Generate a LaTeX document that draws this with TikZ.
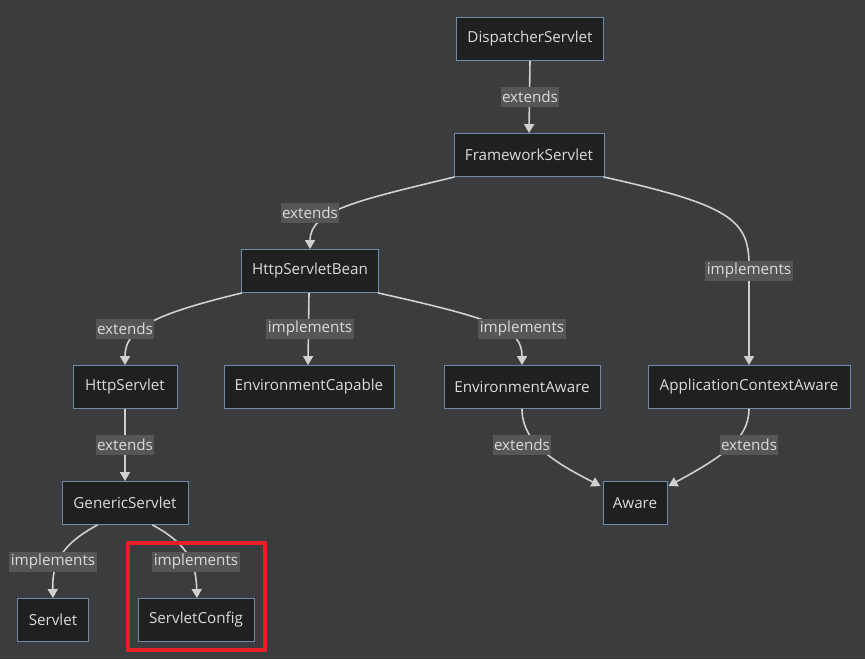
\documentclass[tikz,border=0pt]{standalone}
\usepackage{fontspec}
\setmainfont{Open Sans}
\usetikzlibrary{arrows.meta,calc}
\definecolor{bgc}{RGB}{59,60,62}
\definecolor{nodefill}{RGB}{31,32,32}
\definecolor{nodeline}{RGB}{110,140,170}
\definecolor{txt}{RGB}{218,218,218}
\definecolor{edgec}{RGB}{208,208,208}
\definecolor{lblbg}{RGB}{86,86,86}
\definecolor{hl}{RGB}{232,30,40}
\begin{document}
\begin{tikzpicture}[x=1pt,y=-1pt,
  box/.style={draw=nodeline,fill=nodefill,line width=0.9pt,minimum height=43pt,inner sep=0pt,text=txt,font=\fontsize{15.2}{17}\selectfont},
  lbl/.style={fill=lblbg,text=txt,inner sep=1.5pt,minimum height=20pt,font=\fontsize{15.2}{17}\selectfont},
  edge/.style={draw=edgec,line width=1.6pt,-{Triangle[width=10pt,length=9pt]}}]
\fill[bgc] (0,0) rectangle (865,659);
\useasboundingbox (0,0) rectangle (865,659);
% nodes
\node[box,minimum width=147pt] (ds) at (530,39) {DispatcherServlet};
\node[box,minimum width=150pt] (fs) at (529,155) {FrameworkServlet};
\node[box,minimum width=137pt] (hsb) at (310,271) {HttpServletBean};
\node[box,minimum width=104pt] (hs) at (125,387) {HttpServlet};
\node[box,minimum width=170pt] (ec) at (309,387) {EnvironmentCapable};
\node[box,minimum width=156pt] (ea) at (522,387) {EnvironmentAware};
\node[box,minimum width=202pt] (aca) at (749,387) {ApplicationContextAware};
\node[box,minimum width=126pt] (gs) at (125,503) {GenericServlet};
\node[box,minimum width=64pt] (aw) at (635,503) {Aware};
\node[box,minimum width=71pt] (sv) at (53,620) {Servlet};
\node[box,minimum width=116pt] (sc) at (196,620) {ServletConfig};
% edges
\draw[edge] (ds.south) -- (fs.north);
\draw[edge] ([xshift=1pt]fs.south west) .. controls (360,200) and (310,210) .. (hsb.north);
\draw[edge] ([xshift=-1pt]fs.south east) .. controls (730,205) and (749,220) .. (749,265) -- (aca.north);
\draw[edge] ([xshift=1pt]hsb.south west) .. controls (150,315) and (125,330) .. (hs.north);
\draw[edge] ([xshift=-1pt]hsb.south) -- ([xshift=-1pt]ec.north);
\draw[edge] ([xshift=-1pt]hsb.south east) .. controls (500,320) and (522,330) .. (ea.north);
\draw[edge] (hs.south) -- (gs.north);
\draw[edge] (ea.south) .. controls (522,445) and (560,465) .. ([xshift=-2pt,yshift=-5pt]aw.north west);
\draw[edge] (aca.south) .. controls (749,440) and (720,458) .. ([xshift=1pt,yshift=-5pt]aw.north east);
\draw[edge] ([xshift=36pt]gs.south west) .. controls (60,545) and (52,565) .. (sv.north);
\draw[edge] ([xshift=-36pt]gs.south east) .. controls (190,545) and (196,565) .. ([xshift=1pt]sc.north);
% labels
\node[lbl] (l1) at (530,97) {extends};
\node[lbl] (l2) at (310,213) {extends};
\node[lbl] (l3) at (749,271) {implements};
\node[lbl] (l4) at (125,329) {extends};
\node[lbl] (l5) at (310,329) {implements};
\node[lbl] (l6) at (522,329) {implements};
\node[lbl] (l7) at (125,445) {extends};
\node[lbl] (l8) at (522,445) {extends};
\node[lbl] (l9) at (749,445) {extends};
\node[lbl] (l10) at (53,562) {implements};
\node[lbl] (l11) at (196,562) {implements};
% highlight
\draw[hl,line width=3.5pt] (128,543) rectangle (265,650);
\end{tikzpicture}
\end{document}
